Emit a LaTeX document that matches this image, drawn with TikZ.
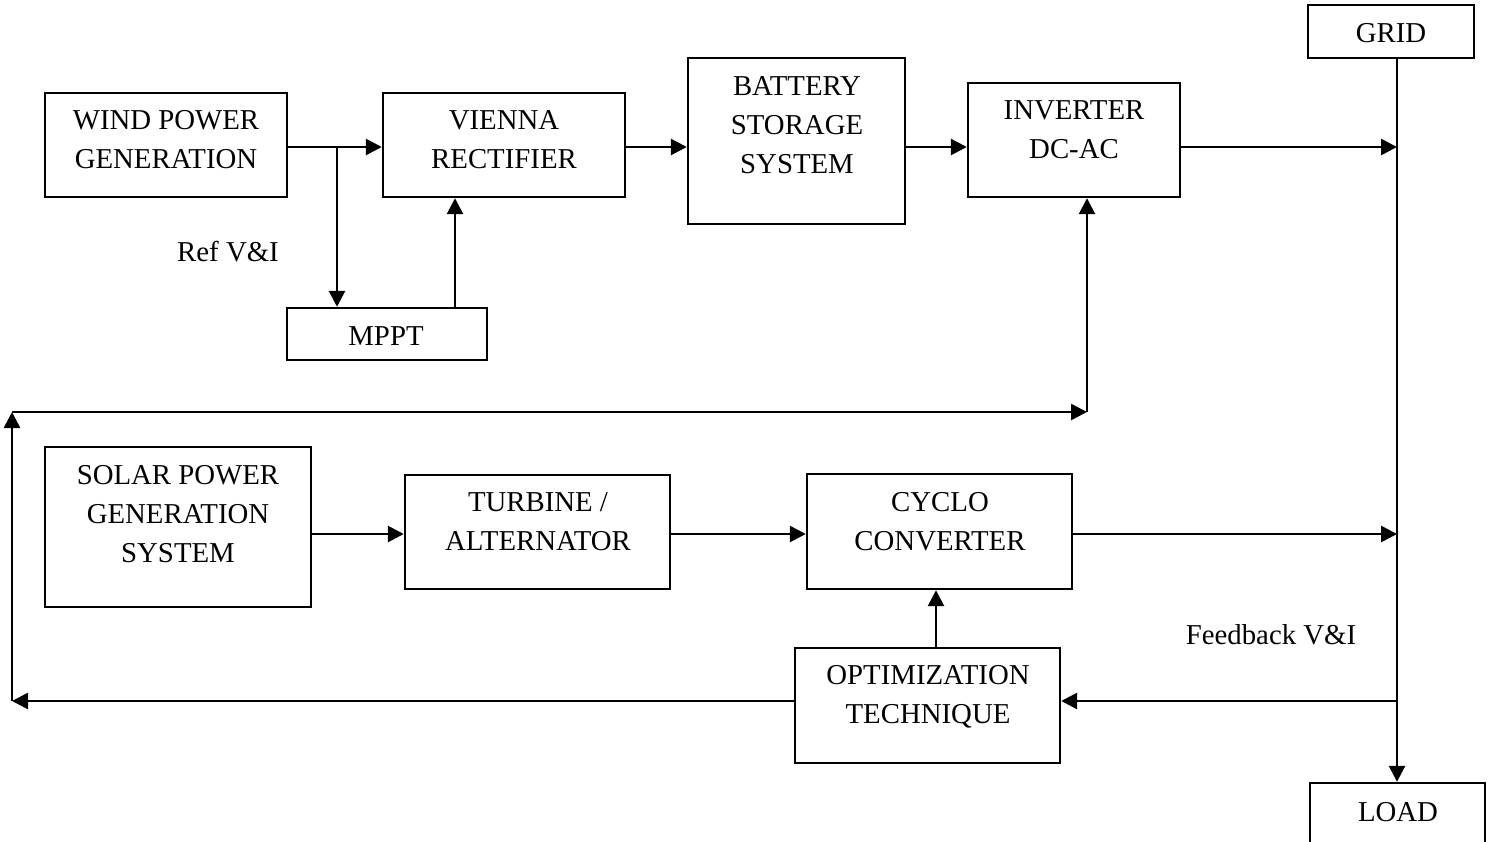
\documentclass[tikz,border=0pt]{standalone}
\usepackage{fontspec}
\setmainfont{Liberation Serif}
\usetikzlibrary{arrows.meta,calc}
\tikzset{
  blk/.style={draw=black, line width=1.2pt, minimum width=#1, inner sep=0pt},
  txt/.style={align=center, inner sep=0pt, font=\fontsize{14.4pt}{19.5pt}\selectfont},
  conn/.style={line width=1.35pt, -{Triangle[length=8pt,width=8pt]}},
  plain/.style={line width=1.35pt}
}
\begin{document}
\begin{tikzpicture}[x=0.5pt,y=-0.5pt]
\clip (0,0) rectangle (1493,841);
\fill[white] (0,0) rectangle (1493,841);
% boxes
\node[blk=121pt, minimum height=52pt]   (wind)    at (166,145) {};
\node[blk=121pt, minimum height=52pt]   (vienna)  at (504,145) {};
\node[blk=108.5pt, minimum height=83pt] (battery) at (796.5,141) {};
\node[blk=106pt, minimum height=57pt]   (inverter) at (1074,140) {};
\node[blk=83pt, minimum height=26.5pt]  (grid)    at (1391,31.5) {};
\node[blk=100pt, minimum height=26pt]   (mppt)    at (387,334) {};
\node[blk=133pt, minimum height=80pt]   (solar)   at (178,527) {};
\node[blk=132.5pt, minimum height=57pt] (turbine) at (537.5,532) {};
\node[blk=132.5pt, minimum height=57.5pt] (cyclo) at (939.5,531.5) {};
\node[blk=132.5pt, minimum height=57.5pt] (optim) at (927.5,705.5) {};
\node[blk=87.5pt, minimum height=43.5pt] (load)   at (1397.5,826.5) {};
% texts
\node[txt] (twind)    at (166,139.5) {WIND POWER\\GENERATION};
\node[txt] (tvienna)  at (504,139.5) {VIENNA\\RECTIFIER};
\node[txt] (tbattery) at (797,125.3) {BATTERY\\STORAGE\\SYSTEM};
\node[txt] (tinverter) at (1074,130) {INVERTER\\DC-AC};
\node[txt] (tgrid)    at (1391,33) {GRID};
\node[txt] (tmppt)    at (386,336) {MPPT};
\node[txt] (tsolar)   at (178,513.7) {SOLAR POWER\\GENERATION\\SYSTEM};
\node[txt] (tturbine) at (538,522) {TURBINE /\\ALTERNATOR};
\node[txt] (tcyclo)   at (940,521.5) {CYCLO\\CONVERTER};
\node[txt] (toptim)   at (928,697) {OPTIMIZATION\\TECHNIQUE};
\node[txt] (tload)    at (1398,812) {LOAD};
\node[txt] (lref)     at (228,252) {Ref V\&I};
\node[txt] (lfb)      at (1271,635) {Feedback V\&I};
% helper coordinates
\coordinate (r1) at (0,147);
\coordinate (r2) at (0,534);
\coordinate (r3) at (0,701);
\coordinate (busx) at (1397,0);
\coordinate (br) at (337,147);
\coordinate (mx) at (455,0);
\coordinate (ox) at (936,0);
\coordinate (fbl) at (12,701);
\coordinate (fbtl) at (12,412);
\coordinate (fbtr) at (1087,412);
% connectors
\draw[conn] (wind.east |- r1) -- (vienna.west |- r1);
\draw[conn] (br) -- (br |- mppt.north);
\draw[conn] (mppt.north -| mx) -- (vienna.south -| mx);
\draw[conn] (vienna.east |- r1) -- (battery.west |- r1);
\draw[conn] (battery.east |- r1) -- (inverter.west |- r1);
\draw[conn] (inverter.east |- r1) -- (busx |- r1);
\draw[conn] (grid.south -| busx) -- (load.north -| busx);
\draw[conn] (solar.east |- r2) -- (turbine.west |- r2);
\draw[conn] (turbine.east |- r2) -- (cyclo.west |- r2);
\draw[conn] (cyclo.east |- r2) -- (busx |- r2);
\draw[conn] (optim.north -| ox) -- (cyclo.south -| ox);
\draw[conn] (busx |- r3) -- (optim.east |- r3);
\draw[conn] (optim.west |- r3) -- (fbl);
\draw[conn] (fbl) -- (fbtl);
\draw[conn] (fbtl) -- (fbtr);
\draw[conn] (fbtr) -- (inverter.south -| fbtr);
\end{tikzpicture}
\end{document}
